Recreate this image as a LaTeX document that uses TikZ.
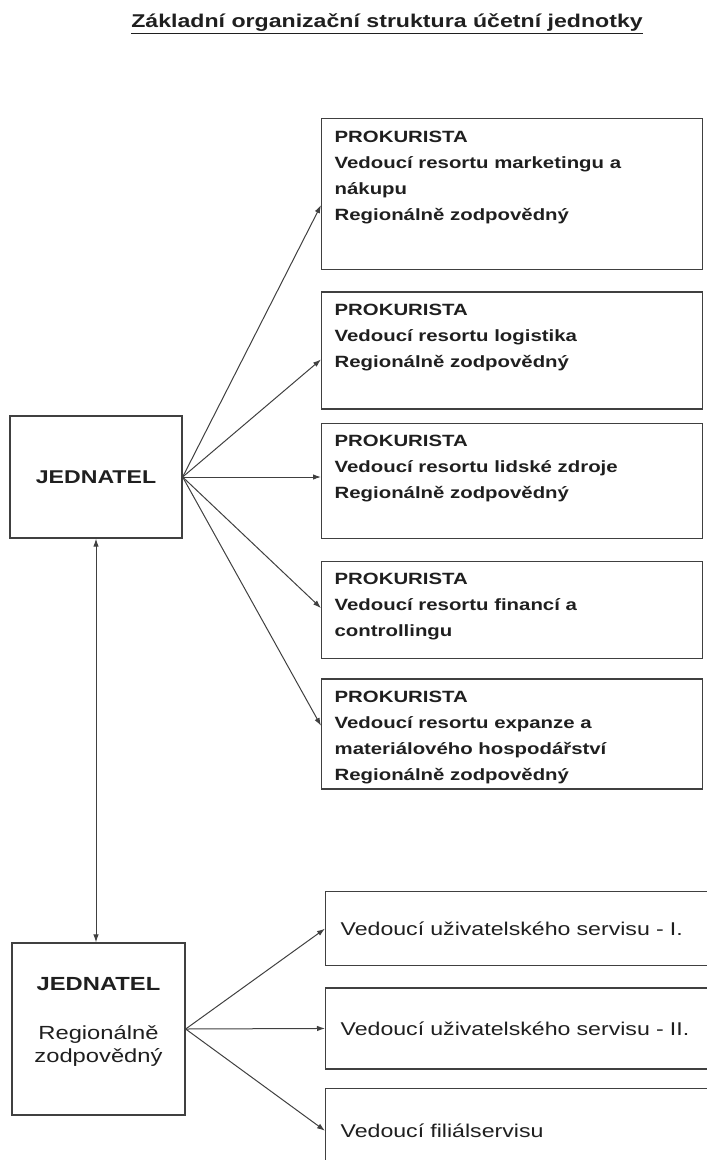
\documentclass[tikz,border=0pt]{standalone}
\usepackage{fontspec}
\setmainfont{Liberation Sans}[FakeStretch=1.25]
\usepackage{tikz}
\usetikzlibrary{arrows.meta}
\usetikzlibrary{positioning}
\usetikzlibrary{calc}
\definecolor{linka}{gray}{0.25}
\definecolor{pismo}{gray}{0.12}
\newcommand{\prokText}[2]{\parbox[t][#1][t]{355pt}{#2}}

\begin{document}
\begin{tikzpicture}[x=1pt, y=-1pt,
		every node/.style={text=pismo},
		jedbox/.style={draw=linka, line width=1.3pt, align=center, inner sep=0pt},
		prokbox/.style={draw=linka, line width=1.3pt, anchor=north west, inner xsep=13pt, inner ysep=12pt, align=left, font=\bfseries\fontsize{16.3}{26}\selectfont},
		servbox/.style={draw=linka, line width=1.3pt, anchor=north west, minimum width=387pt, text width=357pt, inner xsep=15pt, align=left, font=\fontsize{18.5}{22}\selectfont},
		sipka/.style={draw=linka, line width=1pt, -{Latex[length=8pt,width=5.5pt]}}]
		\useasboundingbox (0,0) rectangle (707,1160);

		\node(nadpis) at (387,24) [font=\bfseries\fontsize{18.5}{22}\selectfont] {\underline{Základní organizační struktura účetní jednotky}};

		% jednatel a prokuristi
		\node(jednatel)		[jedbox, minimum width=172pt, minimum height=122pt, font=\bfseries\fontsize{18.5}{22}\selectfont] at (96,477) {JEDNATEL};
		\node(prokMarketing)	[prokbox] at (321,118)	{\prokText{127pt}{PROKURISTA\\Vedoucí resortu marketingu a\\nákupu\\Regionálně zodpovědný}};
		\node(prokLogistika)	[prokbox, below=21pt of prokMarketing.south west, anchor=north west]	{\prokText{93pt}{PROKURISTA\\Vedoucí resortu logistika\\Regionálně zodpovědný}};
		\node(prokLidske)		[prokbox, below=13pt of prokLogistika.south west, anchor=north west]	{\prokText{91pt}{PROKURISTA\\Vedoucí resortu lidské zdroje\\Regionálně zodpovědný}};
		\node(prokFinance)		[prokbox, below=22pt of prokLidske.south west, anchor=north west]		{\prokText{73pt}{PROKURISTA\\Vedoucí resortu financí a\\controllingu}};
		\node(prokExpanze)		[prokbox, below=19pt of prokFinance.south west, anchor=north west]		{\prokText{86pt}{PROKURISTA\\Vedoucí resortu expanze a\\materiálového hospodářství\\Regionálně zodpovědný}};

		\draw[sipka](jednatel.east) -- ($(prokMarketing.west)+(0,11)$);
		\draw[sipka](jednatel.east) -- ($(prokLogistika.west)+(0,9)$);
		\draw[sipka](jednatel.east) -- (jednatel.east -| prokLidske.west);
		\draw[sipka](jednatel.east) -- ($(prokFinance.west)+(0,-2)$);
		\draw[sipka](jednatel.east) -- ($(prokExpanze.west)+(0,-8)$);

		% regionalni jednatel a servisy
		\node(jednatelReg)	[jedbox, minimum width=173pt, minimum height=172pt, font=\fontsize{19}{23}\selectfont] at (98.5,1029) {{\bfseries JEDNATEL}\\[26pt]Regionálně\\zodpovědný\\[-5pt]\mbox{}};
		\node(servisI)		[servbox, minimum height=74pt] at (325,891)	{Vedoucí uživatelského servisu - I.};
		\node(servisII)		[servbox, minimum height=81pt, below=21pt of servisI.south west, anchor=north west]	{Vedoucí uživatelského servisu - II.};
		\node(filialServis)	[servbox, minimum height=85pt, below=18pt of servisII.south west, anchor=north west]	{Vedoucí filiálservisu};

		\draw[sipka](jednatelReg.east) -- (servisI.west);
		\draw[sipka](jednatelReg.east) -- (servisII.west);
		\draw[sipka](jednatelReg.east) -- (filialServis.west);

		\draw[sipka, {Latex[length=8pt,width=5.5pt]}-{Latex[length=8pt,width=5.5pt]}](jednatel.south) -- (jednatel.south |- jednatelReg.north);
	\end{tikzpicture}
\end{document}
